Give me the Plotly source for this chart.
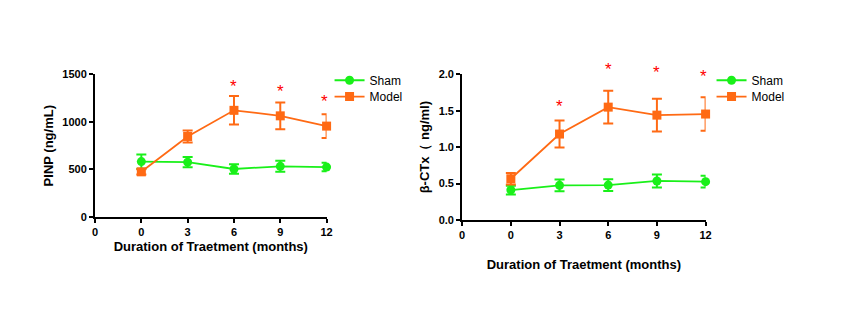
import plotly.graph_objects as go

W, H = 863, 328

months = [0, 3, 6, 9, 12]
tick_vals = [-3, 0, 3, 6, 9, 12]
tick_text = ["0", "0", "3", "6", "9", "12"]

# PINP (ng/mL)
pinp_sham = [583, 577, 505, 533, 525]
pinp_sham_err = [75, 55, 50, 58, 45]
pinp_model = [475, 847, 1122, 1064, 956]
pinp_model_err = [28, 63, 150, 140, 125]
pinp_range = [0, 1500]
pinp_star_x = [6, 9, 11.85]
pinp_star_y = [1370, 1320, 1210]

# beta-CTx (ng/ml)
ctx_sham = [0.41, 0.475, 0.478, 0.535, 0.525]
ctx_sham_err = [0.06, 0.08, 0.08, 0.09, 0.08]
ctx_model = [0.565, 1.18, 1.55, 1.44, 1.455]
ctx_model_err = [0.08, 0.185, 0.225, 0.225, 0.23]
ctx_range = [0, 2.0]
ctx_star_x = [3, 6, 9, 11.9]
ctx_star_y = [1.56, 2.07, 2.02, 1.97]

GREEN = "#19f019"
ORANGE = "#ff6a14"
FONT = "Liberation Sans, Arial, sans-serif"


def px_x(p):
    return p / W


def px_y(p):
    return 1 - p / H


fig = go.Figure()


def add_series(x, y, err, color, symbol, size, name, xa, ya, legend):
    fig.add_trace(go.Scatter(
        x=x, y=y, name=name, mode="lines+markers",
        xaxis=xa, yaxis=ya, legend=legend, cliponaxis=False,
        line=dict(color=color, width=1.8),
        marker=dict(color=color, symbol=symbol, size=size),
        error_y=dict(type="data", array=err, color=color, thickness=2, width=5),
    ))


add_series(months, pinp_sham, pinp_sham_err, GREEN, "circle", 9, "Sham", "x", "y", "legend")
add_series(months, pinp_model, pinp_model_err, ORANGE, "square", 9, "Model", "x", "y", "legend2")
add_series(months, ctx_sham, ctx_sham_err, GREEN, "circle", 9, "Sham", "x2", "y2", "legend3")
add_series(months, ctx_model, ctx_model_err, ORANGE, "square", 9, "Model", "x2", "y2", "legend4")

# significance stars; placed in axis-domain units so they may sit above the top tick
annotations = []
for xs, ys, rng, xr, yr in [(pinp_star_x, pinp_star_y, pinp_range, "x", "y domain"),
                            (ctx_star_x, ctx_star_y, ctx_range, "x2", "y2 domain")]:
    for xv, yv in zip(xs, ys):
        frac = (yv - rng[0]) / (rng[1] - rng[0])
        annotations.append(dict(x=xv, y=frac, xref=xr, yref=yr, text="*", showarrow=False,
                                xanchor="center", yanchor="middle",
                                font=dict(color="red", size=17, family=FONT)))

axis_common = dict(showline=True, linecolor="black", linewidth=2, ticks="outside",
                   tickwidth=2, ticklen=4, tickcolor="black", showgrid=False, zeroline=False,
                   tickfont=dict(family=FONT, size=11, color="black", weight="bold"))

xcommon = dict(axis_common, range=[-3, 12], tickmode="array", tickvals=tick_vals, ticktext=tick_text)
title_font = dict(family=FONT, size=13, weight="bold")


def legend_box(x, y):
    return dict(x=px_x(x), y=px_y(y), xanchor="left", yanchor="top",
                font=dict(family=FONT, size=12), itemwidth=30,
                bgcolor="rgba(0,0,0,0)")


fig.update_layout(
    width=W, height=H, margin=dict(l=0, r=0, t=0, b=0),
    paper_bgcolor="white", plot_bgcolor="white",
    font=dict(family=FONT, color="black"),
    xaxis=dict(xcommon, domain=[px_x(93), px_x(327)], anchor="y",
               title=dict(text="Duration of Traetment (months)", standoff=5, font=title_font)),
    yaxis=dict(axis_common, domain=[px_y(219), px_y(71)], anchor="x", range=pinp_range,
               tickvals=[0, 500, 1000, 1500],
               title=dict(text="PINP (ng/mL)", standoff=6, font=title_font)),
    xaxis2=dict(xcommon, domain=[px_x(464), px_x(710)], anchor="y2",
                title=dict(text="Duration of Traetment (months)", standoff=20, font=title_font)),
    yaxis2=dict(axis_common, domain=[px_y(222), px_y(71)], anchor="x2", range=ctx_range,
                tickvals=[0, 0.5, 1.0, 1.5, 2.0], tickformat=".1f",
                title=dict(text="β-CTx（ ng/ml)", standoff=6, font=title_font)),
    legend=legend_box(330, 62),
    legend2=legend_box(330, 79),
    legend3=legend_box(716, 62),
    legend4=legend_box(716, 79),
    annotations=annotations,
    showlegend=True,
)

fig.write_html("out.html")
